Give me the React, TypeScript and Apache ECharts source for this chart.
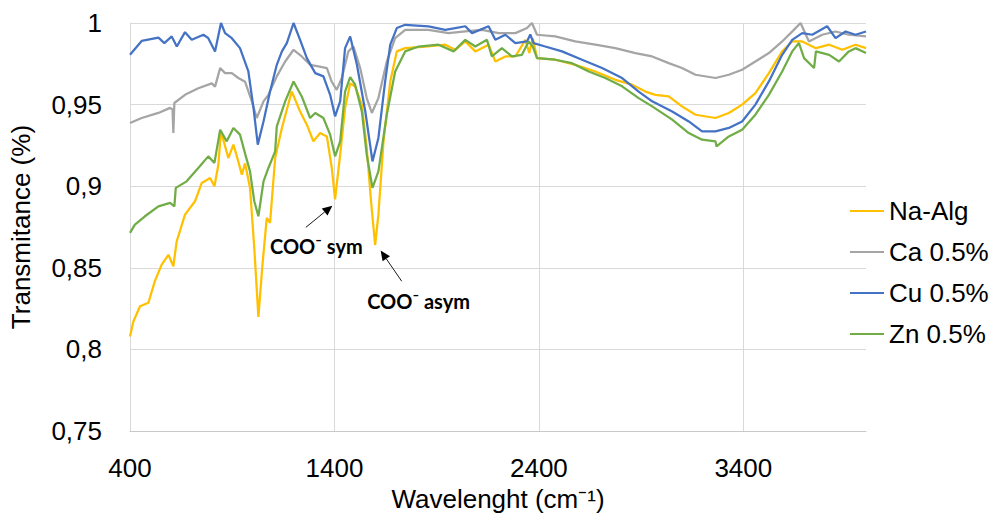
import { useEffect, useRef } from 'react';
import * as echarts from 'echarts';

const seriesNames = ['Na-Alg', 'Ca 0.5%', 'Cu 0.5%', 'Zn 0.5%'];
const seriesColors = ['#FFC000', '#A5A5A5', '#4472C4', '#70AD47'];
const xTicks = [400, 1400, 2400, 3400];
const yTicks = [0.75, 0.8, 0.85, 0.9, 0.95, 1];

const naAlg: [number, number][] = [
  [400, 0.808], [416, 0.817], [449, 0.8265], [490, 0.8286], [522, 0.842], [555, 0.852],
  [588, 0.858], [612, 0.851], [628, 0.866], [669, 0.8826], [718, 0.8908], [751, 0.902],
  [792, 0.905], [813, 0.9], [832, 0.913], [845, 0.9336], [881, 0.9173], [906, 0.9255],
  [930, 0.915], [947, 0.9071], [963, 0.914], [987, 0.899], [1008, 0.862], [1028, 0.82],
  [1048, 0.852], [1069, 0.8806], [1085, 0.8775], [1110, 0.9173], [1143, 0.9357], [1191, 0.958],
  [1232, 0.9458], [1265, 0.9377], [1297, 0.9275], [1330, 0.9326], [1363, 0.9305], [1387, 0.9112],
  [1403, 0.892], [1428, 0.9193], [1452, 0.9479], [1477, 0.963], [1501, 0.9611], [1534, 0.95],
  [1558, 0.9234], [1579, 0.8908], [1599, 0.864], [1615, 0.8826], [1640, 0.9275], [1673, 0.9642],
  [1705, 0.9826], [1746, 0.9846], [1844, 0.9856], [1942, 0.9867], [1991, 0.9836], [2040, 0.9887],
  [2089, 0.9826], [2154, 0.9867], [2187, 0.9764], [2236, 0.9795], [2285, 0.9795], [2334, 0.9897],
  [2353, 0.9816], [2370, 0.9907], [2391, 0.9785], [2480, 0.9775], [2578, 0.9744], [2676, 0.9703],
  [2774, 0.9652], [2856, 0.9622], [2921, 0.958], [2970, 0.956], [3035, 0.955], [3100, 0.9489],
  [3166, 0.9438], [3264, 0.9418], [3329, 0.9449], [3394, 0.95], [3459, 0.957], [3525, 0.9693],
  [3590, 0.9826], [3639, 0.9887], [3688, 0.9887], [3755, 0.9846], [3820, 0.9867], [3884, 0.9836],
  [3949, 0.9867], [4000, 0.9846],
];

const ca05: [number, number][] = [
  [400, 0.9387], [457, 0.9418], [539, 0.9449], [596, 0.948], [608, 0.947], [612, 0.9326],
  [617, 0.951], [669, 0.956], [734, 0.96], [800, 0.963], [816, 0.961], [841, 0.9724],
  [865, 0.9693], [898, 0.9693], [930, 0.9663], [963, 0.964], [996, 0.952], [1020, 0.9418],
  [1053, 0.952], [1077, 0.956], [1118, 0.9673], [1159, 0.9764], [1200, 0.9836], [1240, 0.9795],
  [1281, 0.9744], [1322, 0.9734], [1363, 0.9724], [1387, 0.964], [1411, 0.959], [1436, 0.9663],
  [1468, 0.9826], [1493, 0.9856], [1526, 0.9724], [1558, 0.954], [1583, 0.9449], [1615, 0.954],
  [1656, 0.9764], [1697, 0.9907], [1746, 0.9958], [1860, 0.9958], [1958, 0.9938], [2040, 0.9948],
  [2122, 0.9958], [2203, 0.9938], [2285, 0.9938], [2342, 0.9969], [2366, 1.0], [2391, 0.9928],
  [2480, 0.9918], [2578, 0.9887], [2676, 0.9867], [2774, 0.9846], [2872, 0.9816], [2954, 0.9795],
  [3035, 0.9754], [3100, 0.9724], [3166, 0.9683], [3264, 0.9663], [3329, 0.9683], [3394, 0.9714],
  [3459, 0.9764], [3525, 0.9816], [3590, 0.9887], [3647, 0.9958], [3680, 1.0], [3721, 0.9887],
  [3786, 0.9928], [3851, 0.9948], [3916, 0.9928], [4000, 0.9918],
];

const cu05: [number, number][] = [
  [400, 0.9805], [457, 0.989], [539, 0.991], [568, 0.9877], [604, 0.9918], [629, 0.9856],
  [669, 0.9944], [702, 0.9897], [759, 0.9928], [783, 0.9907], [816, 0.9826], [845, 1.0],
  [865, 0.9938], [898, 0.9907], [938, 0.9846], [979, 0.9703], [1004, 0.948], [1025, 0.9255],
  [1053, 0.9397], [1085, 0.958], [1118, 0.9744], [1143, 0.9826], [1167, 0.9877], [1200, 1.0],
  [1232, 0.9897], [1265, 0.9785], [1306, 0.9693], [1346, 0.9673], [1379, 0.956], [1403, 0.9428],
  [1428, 0.952], [1452, 0.9846], [1477, 0.9918], [1510, 0.9744], [1551, 0.9458], [1586, 0.9152],
  [1615, 0.9296], [1648, 0.9642], [1673, 0.9867], [1705, 0.9969], [1746, 0.9989], [1860, 0.9979],
  [1942, 0.9958], [1991, 0.9969], [2040, 0.998], [2073, 0.9938], [2154, 0.998], [2187, 0.9897],
  [2236, 0.9928], [2285, 0.9877], [2342, 0.9887], [2358, 0.993], [2374, 0.9877], [2431, 0.9856],
  [2513, 0.9826], [2611, 0.9775], [2709, 0.9724], [2807, 0.9663], [2888, 0.958], [2954, 0.952],
  [3052, 0.9458], [3133, 0.9397], [3198, 0.9336], [3264, 0.9336], [3329, 0.9357], [3394, 0.9397],
  [3459, 0.95], [3525, 0.9642], [3590, 0.9805], [3639, 0.9897], [3688, 0.9938], [3737, 0.9928],
  [3810, 0.998], [3851, 0.9907], [3900, 0.9948], [3949, 0.9928], [4000, 0.9948],
];

const zn05: [number, number][] = [
  [400, 0.8714], [424, 0.8765], [473, 0.8816], [539, 0.8877], [596, 0.8898], [617, 0.8877],
  [624, 0.899], [677, 0.903], [734, 0.9112], [783, 0.9183], [813, 0.9143], [841, 0.9346],
  [873, 0.9275], [906, 0.9357], [938, 0.9316], [963, 0.92], [987, 0.9091], [1008, 0.8908],
  [1028, 0.8816], [1053, 0.903], [1077, 0.9112], [1110, 0.9214], [1118, 0.9367], [1159, 0.952],
  [1200, 0.9642], [1240, 0.955], [1281, 0.9418], [1306, 0.9449], [1346, 0.9418], [1379, 0.9316],
  [1403, 0.9183], [1428, 0.9275], [1452, 0.958], [1477, 0.9668], [1501, 0.9622], [1534, 0.9458],
  [1558, 0.9193], [1586, 0.899], [1615, 0.9091], [1656, 0.9438], [1697, 0.9703], [1746, 0.9826],
  [1811, 0.9856], [1909, 0.9867], [1983, 0.9826], [2040, 0.9897], [2089, 0.9856], [2146, 0.9897],
  [2170, 0.9795], [2219, 0.9846], [2268, 0.9795], [2317, 0.9805], [2350, 0.9887], [2370, 0.9856],
  [2391, 0.9785], [2480, 0.9775], [2562, 0.9754], [2644, 0.9703], [2725, 0.9663], [2807, 0.9612],
  [2888, 0.954], [2954, 0.9489], [3052, 0.9408], [3133, 0.9326], [3198, 0.9285], [3264, 0.9275],
  [3269, 0.9244], [3329, 0.9305], [3394, 0.9346], [3459, 0.9438], [3525, 0.956], [3590, 0.9703],
  [3639, 0.9826], [3672, 0.9877], [3697, 0.9785], [3746, 0.9724], [3755, 0.9826], [3820, 0.9805],
  [3868, 0.9764], [3916, 0.9826], [3949, 0.9846], [4000, 0.9816],
];

const seriesData = [naAlg, ca05, cu05, zn05];

// annotations: label text, text anchor (data coords), arrow tail and head (data coords)
const annoLabels = ['COO\u207B sym', 'COO\u207B asym'];
const annoTextAt: [number, number][] = [[1085, 0.8636], [1560, 0.8297]];
const annoTail: [number, number][] = [[1260, 0.8748], [1729, 0.8418]];
const annoHead: [number, number][] = [[1390, 0.8881], [1626, 0.8606]];

const FONT = '"Liberation Sans", Arial, sans-serif';

export default function App() {
  const ref = useRef<HTMLDivElement>(null);
  useEffect(() => {
    document.body.style.margin = '0';
    if (!ref.current) return;
    const chart = echarts.init(ref.current, undefined, { renderer: 'svg' });
    chart.setOption({
      animation: false,
      backgroundColor: '#fff',
      textStyle: { fontFamily: FONT },
      grid: { left: 130, right: 123, top: 23, bottom: 85 },
      legend: {
        data: seriesNames,
        orient: 'vertical',
        left: 845,
        top: 193,
        icon: 'rect',
        itemWidth: 34,
        itemHeight: 2,
        itemGap: 15,
        textStyle: { fontSize: 26, lineHeight: 26, color: '#000', fontFamily: FONT },
      },
      xAxis: {
        type: 'value',
        min: xTicks[0],
        max: 4000,
        interval: 1000,
        name: 'Wavelenght (cm\u207B\u00B9)',
        nameLocation: 'middle',
        nameGap: 54,
        nameTextStyle: { fontSize: 26, color: '#000', fontFamily: FONT },
        axisLine: { show: true, lineStyle: { color: '#c8c8c8', width: 1 } },
        axisTick: { show: false },
        axisLabel: {
          fontSize: 26,
          color: '#000',
          margin: 24,
          showMaxLabel: false,
          fontFamily: FONT,
          formatter: (v: number) => String(v),
        },
        splitLine: { show: true, showMaxLine: false, lineStyle: { color: '#d9d9d9', width: 1 } },
      },
      yAxis: {
        type: 'value',
        min: yTicks[0],
        max: yTicks[yTicks.length - 1],
        interval: 0.05,
        name: 'Transmitance (%)',
        nameLocation: 'middle',
        nameGap: 96,
        nameTextStyle: { fontSize: 26, color: '#000', fontFamily: FONT },
        axisLine: { show: true, lineStyle: { color: '#d9d9d9', width: 1 } },
        axisTick: { show: false },
        axisLabel: {
          fontSize: 26,
          color: '#000',
          margin: 28,
          fontFamily: FONT,
          formatter: (v: number) => String(Math.round(v * 100) / 100).replace('.', ','),
        },
        splitLine: { show: true, lineStyle: { color: '#d9d9d9', width: 1 } },
      },
      series: seriesNames.map((name, i) => ({
        name,
        type: 'line',
        data: seriesData[i],
        symbol: 'none',
        showSymbol: false,
        smooth: false,
        color: seriesColors[i],
        lineStyle: { color: seriesColors[i], width: 2.25 },
        z: 2 + i,
      })),
    });

    const toPx = (p: [number, number]) => chart.convertToPixel({ gridIndex: 0 }, p) as number[];
    const elements: any[] = [];
    annoLabels.forEach((label, i) => {
      const t = toPx(annoTextAt[i]);
      const a = toPx(annoTail[i]);
      const h = toPx(annoHead[i]);
      const dx = h[0] - a[0];
      const dy = h[1] - a[1];
      const len = Math.sqrt(dx * dx + dy * dy);
      const ux = dx / len;
      const uy = dy / len;
      const headLen = 10;
      const headW = 4.5;
      const bx = h[0] - ux * headLen;
      const by = h[1] - uy * headLen;
      elements.push({
        type: 'line',
        shape: { x1: a[0], y1: a[1], x2: bx, y2: by },
        style: { stroke: '#1a1a1a', lineWidth: 1 },
        z: 100,
      });
      elements.push({
        type: 'polygon',
        shape: {
          points: [
            [h[0], h[1]],
            [bx - uy * headW, by + ux * headW],
            [bx + uy * headW, by - ux * headW],
          ],
        },
        style: { fill: '#000' },
        z: 100,
      });
      elements.push({
        type: 'text',
        x: t[0],
        y: t[1],
        style: {
          text: label,
          font: 'bold 20px Lato, "Open Sans", sans-serif',
          fill: '#000',
          verticalAlign: 'middle',
          align: 'left',
        },
        z: 100,
      });
    });
    chart.setOption({ graphic: { elements } });

    return () => chart.dispose();
  }, []);
  return <div ref={ref} style={{ width: 989, height: 517 }} />;
}
